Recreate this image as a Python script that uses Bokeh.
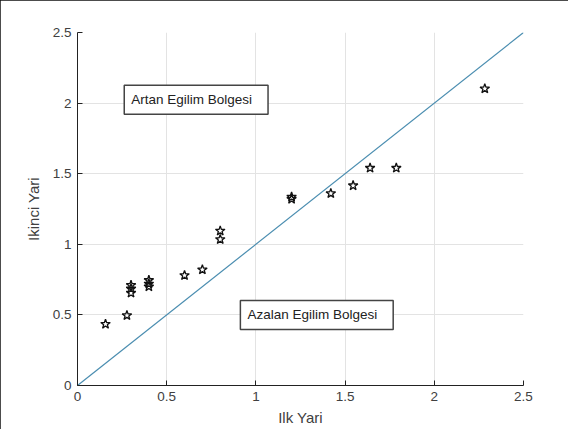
from bokeh.plotting import figure
from bokeh.models import Label, Range1d, FixedTicker
from bokeh.embed import file_html
from bokeh.resources import INLINE

# data
ilk_yari = [0.157, 0.277, 0.30, 0.30, 0.30, 0.40, 0.40, 0.40, 0.60, 0.70,
            0.80, 0.80, 1.20, 1.20, 1.42, 1.545, 1.64, 1.787, 2.283]
ikinci_yari = [0.435, 0.496, 0.71, 0.685, 0.655, 0.745, 0.72, 0.70, 0.78, 0.82,
               1.095, 1.035, 1.335, 1.32, 1.36, 1.416, 1.54, 1.54, 2.102]
ref_line_x = [0, 2.5]
ref_line_y = [0, 2.5]
tick_values = [0, 0.5, 1, 1.5, 2, 2.5]
tick_labels = ["0", "0.5", "1", "1.5", "2", "2.5"]
label_up = "Artan Egilim Bolgesi"
label_down = "Azalan Egilim Bolgesi"
x_title = "Ilk Yari"
y_title = "Ikinci Yari"

FONT = "Liberation Sans"
GREY = "#404040"

p = figure(
    output_backend="svg", toolbar_location=None,
    width=568, height=429,
    frame_width=446, frame_height=353,
    min_border_left=77, min_border_right=45,
    min_border_top=32, min_border_bottom=44,
    x_range=Range1d(0, 2.5), y_range=Range1d(0, 2.5),
    background_fill_color="white", border_fill_color="white",
    outline_line_color=None,
)
p.styles = {"outline": "2px solid #111111", "outline-offset": "-2px"}

for ax in (p.xaxis[0], p.yaxis[0]):
    ax.ticker = FixedTicker(ticks=tick_values)
    ax.major_label_overrides = {v: s for v, s in zip(tick_values, tick_labels)}
    ax.major_tick_in = 5
    ax.major_tick_out = 0
    ax.minor_tick_in = 0
    ax.minor_tick_out = 0
    ax.axis_line_color = "#222222"
    ax.major_tick_line_color = "#222222"
    ax.major_label_text_font = FONT
    ax.major_label_text_font_size = "13.5px"
    ax.major_label_text_color = GREY
    ax.axis_label_text_font = FONT
    ax.axis_label_text_font_size = "15px"
    ax.axis_label_text_font_style = "normal"
    ax.axis_label_text_color = GREY

p.xaxis.axis_label = x_title
p.yaxis.axis_label = y_title
p.xaxis.major_label_standoff = 6
p.yaxis.major_label_standoff = 6
p.xaxis.axis_label_standoff = 5
p.yaxis.axis_label_standoff = 8

p.xgrid.ticker = FixedTicker(ticks=tick_values)
p.ygrid.ticker = FixedTicker(ticks=tick_values)
p.grid.grid_line_color = "#e3e3e3"
p.grid.grid_line_width = 1

p.line(ref_line_x, ref_line_y, line_color="#4a8db0", line_width=1.2)
p.scatter(ilk_yari, ikinci_yari, marker="star", size=10,
          fill_color="white", fill_alpha=0, line_color="#111111", line_width=1.3)

for txt, x, y in ((label_up, 0.262, 2.024), (label_down, 0.913, 0.50)):
    p.add_layout(Label(
        x=x, y=y, text=txt, text_baseline="middle", text_align="left",
        text_font=FONT, text_font_size="13.5px", text_color="#222222",
        border_line_color="#444444", border_line_width=1.5,
        background_fill_color="white",
        padding=(7, 16, 7, 7),
    ))

open("out.html", "w").write(file_html(p, INLINE))
